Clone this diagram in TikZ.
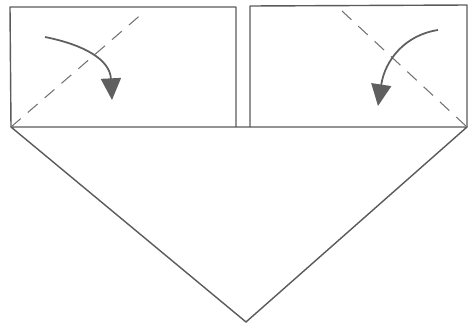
\documentclass[tikz,border=0pt]{standalone}
\usepackage{xcolor}
\definecolor{paperLine}{RGB}{90, 90, 90}
\definecolor{arrowGray}{RGB}{95, 95, 95}
\usepackage{tikz}
\usetikzlibrary{
    arrows.meta,
    calc
}

\begin{document}
\begin{tikzpicture}[
    x=0.03cm, y=-0.03cm,
    edgeLine/.style={
        draw=paperLine, line width=1.2pt, line join=round
    },
    foldLine/.style={
        draw=paperLine!85, dash pattern=on 11pt off 8pt, line width=0.9pt
    },
    foldArrow/.style={
        -{Triangle[length=6.5mm, width=6mm, fill=arrowGray]}, draw=arrowGray, line width=1.5pt
    }
]

    % Page
    \useasboundingbox (0, 0) rectangle (473, 326);

    % Corners
    \coordinate (bl) at (11, 127);
    \coordinate (br) at (467, 127);
    \coordinate (apex) at (246, 322);

    % Flaps
    \draw[edgeLine] (bl) -- (10, 7) -- (236, 7) -- (236, 127);
    \draw[edgeLine] (250, 127) -- (250, 6) -- (467, 5) -- (br);

    % Base triangle
    \draw[edgeLine] (bl) -- (br) -- (apex) -- cycle;

    % Fold lines
    \draw[foldLine] (bl) -- (144, 12);
    \draw[foldLine] (342, 11) -- (br);

    % Arrows
    \draw[foldArrow] (45, 37) .. controls (85, 45) and (110, 60) .. (112, 100);
    \draw[foldArrow] (438, 30) .. controls (405, 35) and (385, 60) .. (378, 106);

\end{tikzpicture}
\end{document}
